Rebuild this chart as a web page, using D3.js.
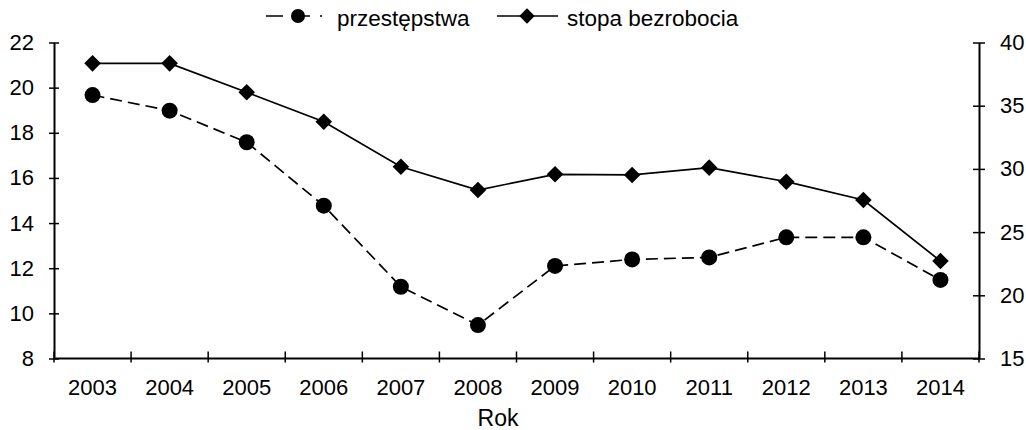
<!DOCTYPE html>
<html>
<head>
<meta charset="utf-8">
<script src="https://cdn.jsdelivr.net/npm/d3@7"></script>
<style>
  body { margin: 0; background: #fff; }
  svg { display: block; font-family: "Liberation Sans", Arial, sans-serif; }
</style>
</head>
<body>
<div id="chart"></div>
<script>
// data
var years = ["2003", "2004", "2005", "2006", "2007", "2008", "2009", "2010", "2011", "2012", "2013", "2014"];
var przestepstwa = [19.67, 18.98, 17.58, 14.77, 11.18, 9.48, 12.1, 12.39, 12.48, 13.37, 13.37, 11.48];
var bezrobocie = [38.35, 38.35, 36.06, 33.73, 30.17, 28.33, 29.57, 29.52, 30.1, 28.99, 27.54, 22.71];
var leftTicks = [8, 10, 12, 14, 16, 18, 20, 22];
var rightTicks = [15, 20, 25, 30, 35, 40];

var width = 1026, height = 430;
var plotLeft = 54, plotRight = 979, plotTop = 42.5, plotBottom = 358.5;

var svg = d3.select('#chart').append('svg')
    .attr('width', width)
    .attr('height', height);

var x = d3.scaleBand().domain(years).range([plotLeft, plotRight]).padding(0);
var yL = d3.scaleLinear().domain([8, 22]).range([plotBottom, plotTop]);
var yR = d3.scaleLinear().domain([15, 40]).range([plotBottom, plotTop]);

var fontSize = 22;

// left axis
var gL = svg.append('g')
    .attr('transform', 'translate(' + plotLeft + ',0)')
    .call(d3.axisLeft(yL).tickValues(leftTicks).tickSize(5).tickPadding(15).tickSizeOuter(0));
gL.selectAll('.tick line').attr('x1', -5).attr('x2', 5);

// right axis
var gR = svg.append('g')
    .attr('transform', 'translate(' + plotRight + ',0)')
    .call(d3.axisRight(yR).tickValues(rightTicks).tickSize(5).tickPadding(16).tickSizeOuter(0));
gR.selectAll('.tick line').attr('x1', -6).attr('x2', 6);

// bottom axis: labels centred in bands, ticks on band edges
var gB = svg.append('g')
    .attr('transform', 'translate(0,' + plotBottom + ')')
    .call(d3.axisBottom(x).tickSize(0).tickPadding(21).tickSizeOuter(0));
gB.select('.domain').remove();
gB.append('line')
    .attr('x1', plotLeft).attr('x2', plotRight)
    .attr('stroke', '#000').attr('stroke-width', 2);
var edges = years.map(function(d) { return x(d); }).concat([plotRight]);
gB.selectAll('line.edge')
    .data(edges)
    .join('line')
    .attr('class', 'edge')
    .attr('x1', d => d).attr('x2', d => d)
    .attr('y1', -7).attr('y2', 4)
    .attr('stroke', '#000').attr('stroke-width', 1.5);

[gL, gR, gB].forEach(function(g) {
    g.selectAll('.domain').attr('stroke', '#000').attr('stroke-width', 2);
    g.selectAll('.tick line').attr('stroke', '#000').attr('stroke-width', 1.5);
    g.selectAll('.tick text')
        .attr('font-size', fontSize)
        .attr('font-family', '"Liberation Sans", Arial, sans-serif')
        .attr('fill', '#000');
});

// axis title
svg.append('text')
    .attr('x', 498).attr('y', 426)
    .attr('text-anchor', 'middle')
    .attr('font-size', 23)
    .text('Rok');

var cx = d => x(d) + x.bandwidth() / 2;
var diamond = d3.symbol().type(d3.symbolDiamond2).size(175);

// crimes, dashed line with circles
var lineL = d3.line().x((d, i) => cx(years[i])).y(d => yL(d));
svg.append('path')
    .attr('d', lineL(przestepstwa))
    .attr('fill', 'none').attr('stroke', '#000')
    .attr('stroke-width', 1.7).attr('stroke-dasharray', '12,6');
svg.selectAll('circle.crime')
    .data(przestepstwa)
    .join('circle')
    .attr('class', 'crime')
    .attr('cx', (d, i) => cx(years[i]))
    .attr('cy', d => yL(d))
    .attr('r', 8)
    .attr('fill', '#000');

// unemployment, solid line with diamonds
var lineR = d3.line().x((d, i) => cx(years[i])).y(d => yR(d));
svg.append('path')
    .attr('d', lineR(bezrobocie))
    .attr('fill', 'none').attr('stroke', '#000')
    .attr('stroke-width', 1.7);
svg.selectAll('path.unemp')
    .data(bezrobocie)
    .join('path')
    .attr('class', 'unemp')
    .attr('d', diamond)
    .attr('transform', (d, i) => 'translate(' + cx(years[i]) + ',' + yR(d) + ')')
    .attr('fill', '#000');

// legend
var lg = svg.append('g');
lg.append('line')
    .attr('x1', 266).attr('x2', 322).attr('y1', 16).attr('y2', 16)
    .attr('stroke', '#000').attr('stroke-width', 1.7).attr('stroke-dasharray', '17,10');
lg.append('circle').attr('cx', 298).attr('cy', 16).attr('r', 7).attr('fill', '#000');
lg.append('text').attr('x', 337).attr('y', 26).attr('font-size', 22.5).text('przestępstwa');

lg.append('line')
    .attr('x1', 497).attr('x2', 558).attr('y1', 16).attr('y2', 16)
    .attr('stroke', '#000').attr('stroke-width', 1.7);
lg.append('path').attr('d', d3.symbol().type(d3.symbolDiamond2).size(150)).attr('transform', 'translate(527,16)').attr('fill', '#000');
lg.append('text').attr('x', 567).attr('y', 26).attr('font-size', 22.5).text('stopa bezrobocia');
</script>
</body>
</html>
